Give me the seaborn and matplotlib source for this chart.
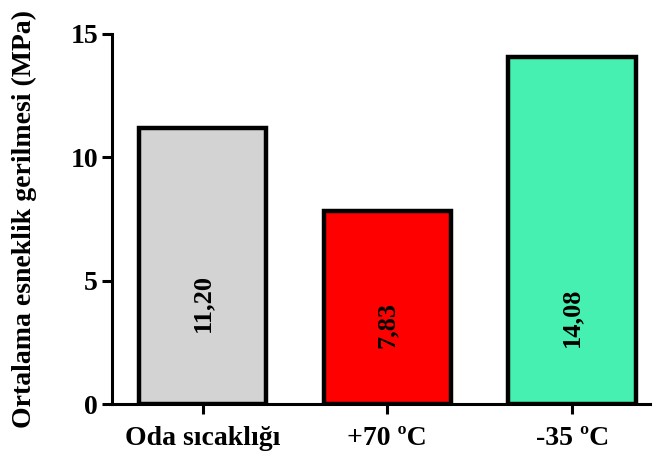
import matplotlib
matplotlib.use("Agg")
import matplotlib.pyplot as plt
import seaborn as sns
import pandas as pd

# Mean yield stress by test condition
conditions = ["Oda sıcaklığı", "+70 ºC", "-35 ºC"]
mean_stress = [11.20, 7.83, 14.08]
bar_colors = ["#D3D3D3", "#FF0000", "#45F0B0"]
value_labels = ["11,20", "7,83", "14,08"]
y_ticks = [0, 5, 10, 15]

df = pd.DataFrame({"condition": conditions, "stress": mean_stress})

sns.set_style("ticks")
plt.rcParams["font.family"] = ["Liberation Serif", "DejaVu Serif"]
plt.rcParams["font.weight"] = "bold"
plt.rcParams["text.color"] = "black"
plt.rcParams["axes.labelcolor"] = "black"
plt.rcParams["xtick.color"] = "black"
plt.rcParams["ytick.color"] = "black"

fig = plt.figure(figsize=(6.55, 4.53), dpi=100)
ax = fig.add_axes([0.171, 0.108, 0.821, 0.817])

sns.barplot(data=df, x="condition", y="stress", hue="condition",
            palette=bar_colors, saturation=1, legend=False, width=0.69,
            edgecolor="black", linewidth=3.2, ax=ax, zorder=2)

# value text inside each bar, rotated
label_y = [4.1, 3.2, 3.5]
for i, (txt, yy) in enumerate(zip(value_labels, label_y)):
    ax.text(i, yy, txt, rotation=90, ha="center", va="center",
            fontsize=19, fontweight="bold", color="black", zorder=3)

ax.set_ylim(0, 15)
ax.set_xlim(-0.49, 2.42)
ax.set_yticks(y_ticks)
ax.set_yticklabels([str(t) for t in y_ticks])

ax.set_xlabel("")
ax.set_ylabel("Ortalama esneklik gerilmesi (MPa)", fontsize=20,
              fontweight="bold", color="black")
ax.yaxis.set_label_coords(-0.14, 0.5)

for side in ["top", "right"]:
    ax.spines[side].set_visible(False)
for side in ["left", "bottom"]:
    ax.spines[side].set_linewidth(2.2)
    ax.spines[side].set_color("black")

ax.tick_params(axis="y", length=7, width=2.2, pad=3, labelsize=20,
               colors="black")
ax.tick_params(axis="x", length=7, width=2.2, pad=9, labelsize=20,
               colors="black")
for lab in ax.get_xticklabels() + ax.get_yticklabels():
    lab.set_fontweight("bold")

fig.savefig("out.png", dpi=100)
